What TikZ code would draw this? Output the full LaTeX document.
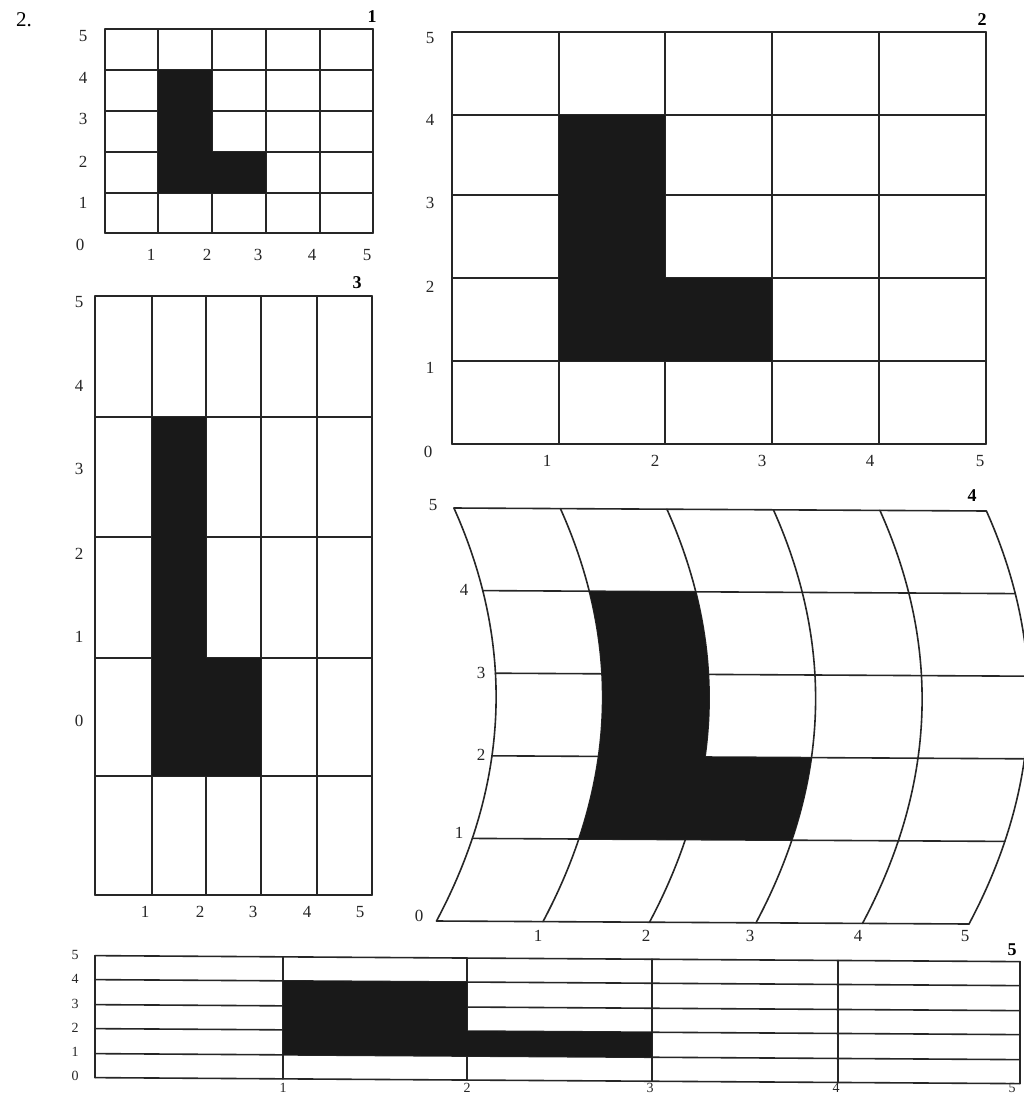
\documentclass[tikz,border=0pt]{standalone}
\usepackage{fontspec}
\setmainfont{Liberation Serif}
\begin{document}
\begin{tikzpicture}[x=1pt,y=-1pt,
  grid/.style={line width=1.6pt, black!85, line cap=round},
  shade/.style={fill=black!90},
  lab/.style={font=\fontsize{17}{17}\selectfont, inner sep=0pt, text=black!85},
  smalllab/.style={font=\fontsize{14}{14}\selectfont, inner sep=0pt, text=black!85},
  ttl/.style={font=\fontsize{18}{18}\selectfont\bfseries, inner sep=0pt},
  declare function={
    px(\uu,\vv)=454+106.5*\uu-17.5+43.9*\vv-8.083*\vv*\vv;
    py(\uu,\vv)=921-82.6*\vv+0.6*\uu;
  }]
\useasboundingbox (0,0) rectangle (1023,1095);
\fill[white] (0,0) rectangle (1023,1095);

\node[font=\fontsize{21}{21}\selectfont, inner sep=0pt] (num) at (24,20) {2.};

% ---------- Panel 1 ----------
\foreach \x in {105,158,212,266,320,373} \draw[grid] (\x,29) -- (\x,233);
\foreach \y in {29,70,111,152,193,233} \draw[grid] (105,\y) -- (373,\y);
\fill[shade] (158,70) -- (212,70) -- (212,152) -- (266,152) -- (266,193) -- (158,193) -- cycle;
\foreach \t/\y in {5/36,4/78,3/119,2/162,1/203} \node[lab] (pay\t) at (83,\y) {\t};
\node[lab] (pay0) at (80,245) {0};
\foreach \t/\x in {1/151,2/207,3/258,4/312,5/367} \node[lab] (pax\t) at (\x,255) {\t};
\node[ttl] (pat) at (372,17) {1};

% ---------- Panel 2 ----------
\foreach \x in {452,559,665,772,879,986} \draw[grid] (\x,32) -- (\x,444);
\foreach \y in {32,115,195,278,361,444} \draw[grid] (452,\y) -- (986,\y);
\fill[shade] (559,115) -- (665,115) -- (665,278) -- (772,278) -- (772,361) -- (559,361) -- cycle;
\foreach \t/\y in {5/38,4/120,3/203,2/287,1/368} \node[lab] (pby\t) at (430,\y) {\t};
\node[lab] (pby0) at (428,452) {0};
\foreach \t/\x in {1/547,2/655,3/762,4/870,5/980} \node[lab] (pbx\t) at (\x,461) {\t};
\node[ttl] (pbt) at (982,20) {2};

% ---------- Panel 3 ----------
\foreach \x in {95,152,206,261,317,372} \draw[grid] (\x,296) -- (\x,895);
\foreach \y in {296,417,537,658,776,895} \draw[grid] (95,\y) -- (372,\y);
\fill[shade] (152,417) -- (206,417) -- (206,658) -- (261,658) -- (261,776) -- (152,776) -- cycle;
\foreach \t/\y in {5/302,4/386,3/469,2/554,1/637,0/721} \node[lab] (pcy\t) at (79,\y) {\t};
\foreach \t/\x in {1/145,2/200,3/253,4/307,5/360} \node[lab] (pcx\t) at (\x,912) {\t};
\node[ttl] (pct) at (357,283) {3};

% ---------- Panel 4 ----------
\foreach \u in {0,...,5}
  \draw[grid] plot[domain=0:5, samples=41, smooth, variable=\v] ({px(\u,\v)},{py(\u,\v)});
\foreach \v in {0,...,5}
  \draw[grid] ({px(0,\v)},{py(0,\v)}) -- ({px(5,\v)},{py(5,\v)});
\fill[shade] plot[domain=1:4, samples=31, smooth, variable=\v] ({px(1,\v)},{py(1,\v)})
  -- plot[domain=4:2, samples=21, smooth, variable=\v] ({px(2,\v)},{py(2,\v)})
  -- plot[domain=2:1, samples=11, smooth, variable=\v] ({px(3,\v)},{py(3,\v)}) -- cycle;
\node[lab] (pdy5) at (433,505) {5};
\node[lab] (pdy4) at (464,590) {4};
\node[lab] (pdy3) at (481,673) {3};
\node[lab] (pdy2) at (481,755) {2};
\node[lab] (pdy1) at (459,833) {1};
\node[lab] (pdy0) at (419,916) {0};
\foreach \t/\x in {1/538,2/646,3/750,4/858,5/965} \node[lab] (pdx\t) at (\x,936) {\t};
\node[ttl] (pdt) at (972,496) {4};

% ---------- Panel 5 ----------
\begin{scope}[yslant=-0.0065]
\foreach \x in {95,283,467,652,838,1020} \draw[grid] (\x,955) -- (\x,1077);
\foreach \y in {955,979,1004,1028,1053,1077} \draw[grid] (95,\y) -- (1020,\y);
\fill[shade] (283,979) -- (467,979) -- (467,1028) -- (652,1028) -- (652,1053) -- (283,1053) -- cycle;
\end{scope}
\foreach \t/\y in {5/955,4/979,3/1004,2/1028,1/1052,0/1076} \node[smalllab] (pey\t) at (75,\y) {\t};
\foreach \t/\x in {1/283,2/467,3/650,4/836,5/1012} \node[smalllab] (pex\t) at (\x,1088) {\t};
\node[ttl] (pet) at (1012,950) {5};
\end{tikzpicture}
\end{document}
